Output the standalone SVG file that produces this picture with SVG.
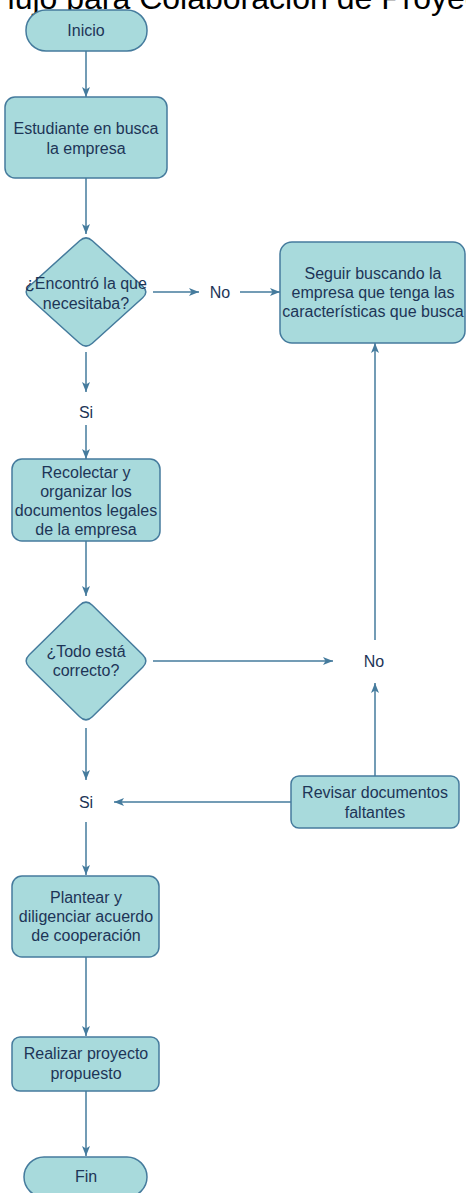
<svg xmlns="http://www.w3.org/2000/svg" width="466" height="1193" viewBox="0 0 466 1193">
<style>
.node{fill:#A8DADC;stroke:#457B9D;stroke-width:1.5}
.t{font-family:"Liberation Sans",Arial,sans-serif;font-size:16px;fill:#1D3557;text-anchor:middle}
.c{fill:none;stroke:#457B9D;stroke-width:1.5;marker-end:url(#arr)}
.title{font-family:"Liberation Sans",Arial,sans-serif;font-size:32px;fill:#000}
</style>
<defs>
<marker id="arr" viewBox="0 0 10 8" refX="10" refY="4" markerWidth="10" markerHeight="8" markerUnits="userSpaceOnUse" orient="auto">
<path d="M0,0 L10,4 L0,8 L2.5,4 Z" fill="#457B9D"/>
</marker>
</defs>
<rect width="466" height="1193" fill="#fff"/>
<text class="title" x="-12" y="9">Flujo para Colaboración de Proyectos</text>
<g id="connectors">
<line class="c" x1="86" y1="51" x2="86" y2="97"/>
<line class="c" x1="86" y1="178" x2="86" y2="234"/>
<line class="c" x1="153" y1="292" x2="199" y2="292"/>
<line class="c" x1="240" y1="292" x2="280" y2="292"/>
<line class="c" x1="86" y1="352" x2="86" y2="392"/>
<line class="c" x1="86" y1="425" x2="86" y2="459"/>
<line class="c" x1="86" y1="541" x2="86" y2="596"/>
<line class="c" x1="153" y1="661" x2="333" y2="661"/>
<line class="c" x1="375" y1="640" x2="375" y2="343"/>
<line class="c" x1="86" y1="728" x2="86" y2="780"/>
<line class="c" x1="86" y1="822" x2="86" y2="875"/>
<line class="c" x1="375" y1="776" x2="375" y2="683"/>
<line class="c" x1="291" y1="802" x2="114" y2="802"/>
<line class="c" x1="86" y1="957" x2="86" y2="1036"/>
<line class="c" x1="86" y1="1091" x2="86" y2="1156"/>
</g>
<g id="labels">
<text class="t" x="220" y="298">No</text>
<text class="t" x="86" y="418">Si</text>
<text class="t" x="374" y="667">No</text>
<text class="t" x="86" y="808">Si</text>
</g>
<g id="inicio">
<rect class="node" x="26" y="10" width="121" height="41" rx="20"/>
<text class="t" x="86" y="36">Inicio</text>
</g>
<g id="estudiante">
<rect class="node" x="5" y="97" width="162" height="81" rx="10"/>
<text class="t" x="86" y="134">Estudiante en busca</text>
<text class="t" x="86" y="154">la empresa</text>
</g>
<g id="encontro">
<path class="node" d="M92.3,240.7 L142.7,286.3 Q149,292 142.7,297.7 L92.3,343.3 Q86,349 79.7,343.3 L29.3,297.7 Q23,292 29.3,286.3 L79.7,240.7 Q86,235 92.3,240.7 Z"/>
<text class="t" x="86" y="289">¿Encontró la que</text>
<text class="t" x="86" y="309">necesitaba?</text>
</g>
<g id="seguir">
<rect class="node" x="280" y="242" width="185" height="101" rx="12"/>
<text class="t" x="373" y="279">Seguir buscando la</text>
<text class="t" x="373" y="298">empresa que tenga las</text>
<text class="t" x="373" y="317">características que busca</text>
</g>
<g id="recolectar">
<rect class="node" x="12" y="459" width="148" height="82" rx="10"/>
<text class="t" x="86" y="478">Recolectar y</text>
<text class="t" x="86" y="497">organizar los</text>
<text class="t" x="86" y="516">documentos legales</text>
<text class="t" x="86" y="535">de la empresa</text>
</g>
<g id="todo">
<path class="node" d="M92.3,605.2 L142.7,654.8 Q149,661 142.7,667.2 L92.3,716.8 Q86,723 79.7,716.8 L29.3,667.2 Q23,661 29.3,654.8 L79.7,605.2 Q86,599 92.3,605.2 Z"/>
<text class="t" x="86" y="657">¿Todo está</text>
<text class="t" x="86" y="676">correcto?</text>
</g>
<g id="revisar">
<rect class="node" x="291" y="776" width="168" height="52" rx="8"/>
<text class="t" x="375" y="798">Revisar documentos</text>
<text class="t" x="375" y="818">faltantes</text>
</g>
<g id="plantear">
<rect class="node" x="12" y="876" width="147" height="81" rx="10"/>
<text class="t" x="86" y="903">Plantear y</text>
<text class="t" x="86" y="922">diligenciar acuerdo</text>
<text class="t" x="86" y="941">de cooperación</text>
</g>
<g id="realizar">
<rect class="node" x="12" y="1037" width="147" height="54" rx="8"/>
<text class="t" x="86" y="1059">Realizar proyecto</text>
<text class="t" x="86" y="1079">propuesto</text>
</g>
<g id="fin">
<rect class="node" x="24" y="1157" width="123" height="40" rx="20"/>
<text class="t" x="86" y="1182">Fin</text>
</g>
</svg>
